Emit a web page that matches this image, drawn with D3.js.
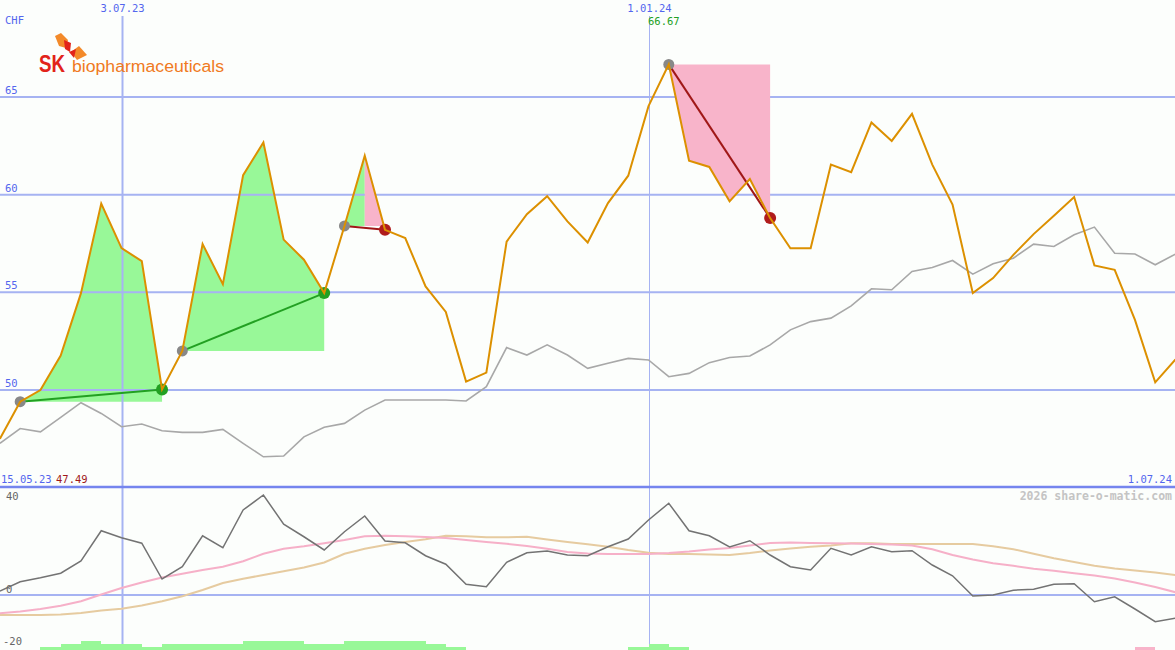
<!DOCTYPE html>
<html>
<head>
<meta charset="utf-8">
<script src="https://cdn.jsdelivr.net/npm/d3@7"></script>
<style>
html,body{margin:0;padding:0;background:#fcfefc;}
svg{display:block;}
</style>
</head>
<body>
<svg id="chart" width="1175" height="650"></svg>
<script>
// ---------- DATA ----------
const startDate = new Date(2023, 4, 22);           // first weekly point
const weekCount = 59;
const closePrices = [47.5, 49.4, 50.0, 51.76, 54.96, 59.54, 57.26, 56.6, 50.03, 52.0,
  57.47, 55.42, 61.0, 62.67, 57.7, 56.67, 54.96, 58.4, 62.0, 58.2,
  57.78, 55.3, 54.0, 50.43, 50.89, 57.6, 59.0, 59.92, 58.63, 57.55,
  59.57, 60.97, 64.53, 66.67, 61.74, 61.42, 59.66, 60.8, 58.8, 57.26,
  57.26, 61.54, 61.15, 63.7, 62.75, 64.14, 61.54, 59.49, 54.96, 55.73,
  56.92, 57.98, 58.92, 59.88, 56.38, 56.15, 53.59, 50.39, 51.57];
const benchmark = [47.27, 48.03, 47.86, 48.6, 49.35, 48.8, 48.12, 48.26, 47.91, 47.83,
  47.83, 47.98, 47.27, 46.58, 46.62, 47.6, 48.09, 48.29, 48.97, 49.49,
  49.49, 49.49, 49.49, 49.44, 50.17, 52.17, 51.79, 52.31, 51.79, 51.11,
  51.37, 51.62, 51.54, 50.68, 50.85, 51.4, 51.66, 51.74, 52.31, 53.08,
  53.5, 53.68, 54.31, 55.18, 55.13, 56.07, 56.27, 56.63, 55.93, 56.46,
  56.75, 57.47, 57.35, 57.95, 58.34, 57.0, 56.96, 56.41, 56.96];
const oscillator = [1.6, 5.3, 6.9, 8.7, 13.6, 25.7, 22.9, 20.7, 6.4, 11.3,
  23.7, 18.9, 34, 40, 28.3, 23.3, 18, 25.3, 31.6, 21.6,
  20.9, 15.7, 12.3, 4.3, 3.3, 13.1, 16.9, 17.6, 16, 15.7,
  19.3, 22.4, 30, 36.7, 25.7, 23.7, 19.2, 21.7, 16, 11.3,
  10, 18.7, 16, 19.3, 17.3, 17.7, 12, 7.7, -0.4, 0,
  1.9, 2.3, 4.3, 4.5, -2.7, -0.7, -5.6, -10.7, -9.3];
const fastAvg = [-7.3, -6.6, -5.6, -4.3, -2.5, 0.2, 2.8, 5, 7, 8.5,
  10, 11.3, 13.5, 16.5, 18.5, 19.5, 20.7, 22, 23.5, 23.7,
  23.5, 23.2, 22.8, 22, 21.2, 20.5, 19.6, 18.5, 17.2, 16.6,
  16.4, 16.4, 16.4, 16.8, 17.4, 18.2, 18.8, 19.8, 20.8, 21,
  20.8, 20.7, 20.6, 20.4, 20.2, 19.8, 18.3, 16, 14.2, 12.7,
  11.7, 10.5, 9.7, 8.7, 7.8, 6.6, 5, 3.2, 1.1];
const slowAvg = [-8, -8, -8, -7.8, -7.2, -6.2, -5.5, -4.2, -2.5, -0.5,
  2, 4.8, 6.5, 8, 9.5, 11, 13, 16.5, 18.5, 20,
  21.2, 22.3, 23.7, 23.5, 23.1, 23.1, 23.3, 22.2, 21.2, 20.3,
  19.3, 18, 16.9, 16.4, 16.4, 16.2, 16, 16.8, 17.8, 18.6,
  19.3, 19.8, 20.7, 20.7, 20.4, 20.4, 20.4, 20.4, 20.4, 19.5,
  18.3, 16.5, 14.7, 13.2, 11.7, 10.6, 9.8, 9, 8];
const signalBars = [0, 0, 1, 2, 3, 2, 2, 1, 2, 2,
  2, 2, 3, 3, 3, 2, 2, 3, 3, 3,
  3, 2, 1, 0, 0, 0, 0, 0, 0, 0,
  0, 1, 2, 1, 0, 0, 0, 0, 0, 0,
  0, 0, 0, 0, 0, 0, 0, 0, 0, 0,
  0, 0, 0, 0, 0, 0, -1, 0, 0];
// trades: entry index, exit index, index of peak (green until there, pink after for losers)
const trades = [
  {entry: 1, exit: 8, peak: 8, win: true},
  {entry: 9, exit: 16, peak: 16, win: true},
  {entry: 17, exit: 19, peak: 18, win: false},
  {entry: 33, exit: 38, peak: 33, win: false}
];
const priceTicks = [50, 55, 60, 65];
const oscTicks = [40, 0, -20];
const dateTicks = [new Date(2023, 6, 3), new Date(2024, 0, 1)];
const dateTickLabels = ["3.07.23", "1.01.24"];
const currency = "CHF";
const periodStart = "15.05.23", periodEnd = "1.07.24";
const lowLabel = "47.49", highLabel = "66.67";
const credit = "2026 share-o-matic.com";

// ---------- SETUP ----------
const dates = d3.range(weekCount).map(i => d3.timeDay.offset(startDate, 7 * i));
const W = 1175, H = 650;
const svg = d3.select("#chart");
const mono = "'DejaVu Sans Mono', monospace";

const x = d3.scaleTime().domain([dates[0], dates[weekCount - 1]]).range([-0.1, 1175.5]);
const y = d3.scaleLinear().domain([50, 65]).range([390, 97]);
const yo = d3.scaleLinear().domain([-20, 40]).range([645, 495]);
const yb = d3.scaleLinear().domain([0, 3]).range([650, 641]);

svg.append("rect").attr("width", W).attr("height", H).attr("fill", "#fcfefc");

const gridCol = "#a6b3f2";
const line = d3.line().x((d, i) => x(dates[i])).y(d => y(d));
const area = (t, from, to) => d3.area().x(i => x(dates[i]))
  .y0(y(closePrices[t.entry])).y1(i => y(closePrices[i]))(d3.range(from, to + 1));

// green (gain) fills under the grid
const greenG = svg.append("g");
trades.forEach(t => {
  const end = t.win ? t.exit : t.peak;
  if (end > t.entry) greenG.append("path").attr("d", area(t, t.entry, end)).attr("fill", "#98f898");
});

// horizontal price grid
svg.append("g").selectAll("line").data(priceTicks).join("line")
  .attr("x1", 0).attr("x2", W).attr("y1", d => y(d)).attr("y2", d => y(d))
  .attr("stroke", gridCol).attr("stroke-width", 2);
// oscillator zero line
svg.append("line").attr("x1", 0).attr("x2", W).attr("y1", yo(0)).attr("y2", yo(0))
  .attr("stroke", gridCol).attr("stroke-width", 2);
// vertical date grid
svg.append("g").selectAll("line").data(dateTicks).join("line")
  .attr("x1", d => Math.round(x(d)) + 0.5).attr("x2", d => Math.round(x(d)) + 0.5)
  .attr("y1", 16).attr("y2", H)
  .attr("stroke", gridCol).attr("stroke-width", (d, i) => i === 0 ? 2 : 1);
// divider
svg.append("line").attr("x1", 0).attr("x2", W).attr("y1", 487).attr("y2", 487)
  .attr("stroke", "#7585ee").attr("stroke-width", 2.5);

// pink (loss) fills
const pinkG = svg.append("g");
trades.filter(t => !t.win).forEach(t => {
  pinkG.append("path").attr("d", area(t, t.peak, t.exit)).attr("fill", "#f8b4ca");
});

// benchmark line
svg.append("path").attr("d", line(benchmark)).attr("fill", "none")
  .attr("stroke", "#a8a8a8").attr("stroke-width", 1.6);

// trade connectors
svg.append("g").selectAll("line").data(trades).join("line")
  .attr("x1", t => x(dates[t.entry])).attr("y1", t => y(closePrices[t.entry]))
  .attr("x2", t => x(dates[t.exit])).attr("y2", t => y(closePrices[t.exit]))
  .attr("stroke", t => t.win ? "#22a022" : "#a01818").attr("stroke-width", 2);

// markers
const mk = svg.append("g");
mk.selectAll("circle.e").data(trades).join("circle").attr("class", "e")
  .attr("cx", t => x(dates[t.entry])).attr("cy", t => y(closePrices[t.entry]))
  .attr("r", 5.5).attr("fill", "#888888");
mk.selectAll("circle.x").data(trades).join("circle").attr("class", "x")
  .attr("cx", t => x(dates[t.exit])).attr("cy", t => y(closePrices[t.exit]))
  .attr("r", 6).attr("fill", t => t.win ? "#22a022" : "#b01c1c");

// price line
svg.append("path").attr("d", line(closePrices)).attr("fill", "none")
  .attr("stroke", "#dc9000").attr("stroke-width", 2).attr("stroke-linejoin", "miter");

// ---------- LOWER PANEL ----------
const oline = d3.line().x((d, i) => x(dates[i])).y(d => yo(d));
svg.append("path").attr("d", oline(slowAvg)).attr("fill", "none")
  .attr("stroke", "#e6cba0").attr("stroke-width", 2);
svg.append("path").attr("d", oline(fastAvg)).attr("fill", "none")
  .attr("stroke", "#f6b0c8").attr("stroke-width", 2);
svg.append("path").attr("d", oline(oscillator)).attr("fill", "none")
  .attr("stroke", "#737373").attr("stroke-width", 1.5);

svg.append("g").attr("shape-rendering", "crispEdges")
  .selectAll("rect").data(signalBars.map((v, i) => ({v, i})).filter(d => d.v !== 0)).join("rect")
  .attr("x", d => Math.round(x(dates[d.i])))
  .attr("width", d => Math.round(x(d3.timeDay.offset(dates[d.i], 7))) - Math.round(x(dates[d.i])))
  .attr("y", d => yb(Math.abs(d.v)))
  .attr("height", d => yb(0) - yb(Math.abs(d.v)))
  .attr("fill", d => d.v > 0 ? "#98f898" : "#f8b4ca");

// ---------- TEXT ----------
const txt = (s, xx, yy, col, anchor, size, weight) =>
  svg.append("text").text(s).attr("x", xx).attr("y", yy).attr("fill", col)
    .attr("text-anchor", anchor || "start").attr("font-family", mono)
    .attr("font-size", size || 10.5).attr("font-weight", weight || "normal");

priceTicks.forEach(v => txt(String(v), 5, y(v) - 3, "#5366ee"));
txt(currency, 5, 24, "#5366ee");
dateTicks.forEach((d, i) => txt(dateTickLabels[i], x(d) + 1, 12, "#5366ee", "middle"));
txt(highLabel, 648, 25, "#22a022");
txt(periodStart, 1, 483, "#5366ee");
txt(lowLabel, 56, 483, "#a01818");
txt(periodEnd, 1172, 483, "#5366ee", "end");
txt(credit, 1172, 500, "#c4c4c4", "end", 11.5, "bold");
oscTicks.forEach(v => txt(String(v), v < 0 ? 3 : 6, v === 40 ? 500 : (v === 0 ? 593 : 645), "#666666"));

// ---------- LOGO ----------
const logo = svg.append("g");
logo.append("path").attr("d", "M55,36 L61,33 L68,40 L66,48 L59,46 Z").attr("fill", "#f38a2a");
logo.append("path").attr("d", "M64,40 L71,43 L70,52 L65,49 Z").attr("fill", "#e2231a");
logo.append("path").attr("d", "M71,52 L79,46 L87,55 L77,60 Z").attr("fill", "#f38a2a");
logo.append("path").attr("d", "M69,52 L76,49 L74,58 Z").attr("fill", "#e2231a");
logo.append("text").text("SK").attr("x", 39).attr("y", 72)
  .attr("font-family", "'Liberation Sans', Arial, sans-serif").attr("font-weight", "bold")
  .attr("font-size", 23).attr("fill", "#e2231a").attr("textLength", 26).attr("lengthAdjust", "spacingAndGlyphs");
logo.append("text").text("biopharmaceuticals").attr("x", 72).attr("y", 72)
  .attr("font-family", "'Liberation Sans', Arial, sans-serif")
  .attr("font-size", 16).attr("fill", "#f07a22").attr("textLength", 152).attr("lengthAdjust", "spacingAndGlyphs");
</script>
</body>
</html>
